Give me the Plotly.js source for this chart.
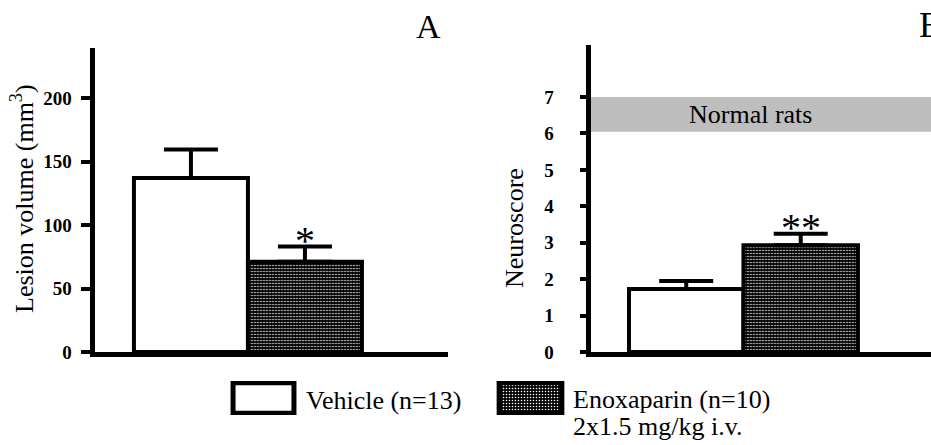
<!DOCTYPE html>
<html>
<head>
<meta charset="utf-8">
<script src="https://cdn.plot.ly/plotly-3.0.1.min.js"></script>
<style>html,body{margin:0;padding:0;background:#fff;}#chart{width:931px;height:445px;}</style>
</head>
<body>
<div id="chart"></div>
<script>
// ---- data ----
var groups = ['Vehicle (n=13)', 'Enoxaparin (n=10)'];
var lesionVolume = [137, 71];
var lesionSEM = [22.5, 12];
var neuroscore = [1.73, 2.93];
var neuroscoreSEM = [0.22, 0.32];
var sigA = ['', '*'];
var sigB = ['', '**'];
var normalBand = [6.05, 7];
var ticksA = [0, 50, 100, 150, 200];
var ticksB = [0, 1, 2, 3, 4, 5, 6, 7];
var doseLabel = '2x1.5 mg/kg i.v.';

var FONT = 'Liberation Serif';
var W = 931, H = 445;
function px(x) { return x / W; }
function py(y) { return (H - y) / H; }

var fills = ['#ffffff', '#000000'];
var patterns = [
  {shape: ''},
  {shape: '.', fillmode: 'replace', bgcolor: '#000000', fgcolor: '#ffffff', size: 3, solidity: 0.22}
];

function barTrace(xa, ya, yvals, err, i) {
  return {
    type: 'bar', xaxis: xa, yaxis: ya,
    x: [groups[i]], y: [yvals[i]], width: 1,
    marker: {color: fills[i], pattern: patterns[i], line: {color: '#000', width: 4}},
    error_y: {type: 'data', symmetric: false, array: [err[i]], arrayminus: [0],
              color: '#000', thickness: 4, width: 27},
    showlegend: false, hoverinfo: 'skip'
  };
}

var data = [
  barTrace('x', 'y', lesionVolume, lesionSEM, 0),
  barTrace('x', 'y', lesionVolume, lesionSEM, 1),
  barTrace('x2', 'y2', neuroscore, neuroscoreSEM, 0),
  barTrace('x2', 'y2', neuroscore, neuroscoreSEM, 1),
  // legend swatches
  {type: 'bar', xaxis: 'x3', yaxis: 'y3', x: [groups[0]], y: [1], width: 1,
   marker: {color: fills[0], line: {color: '#000', width: 5}}, showlegend: false, hoverinfo: 'skip'},
  {type: 'bar', xaxis: 'x4', yaxis: 'y4', x: [groups[1]], y: [1], width: 1,
   marker: {color: fills[1], pattern: patterns[1], line: {color: '#000', width: 5}}, showlegend: false, hoverinfo: 'skip'}
];

var tickFont = {family: FONT, size: 19, color: '#000', weight: 'bold'};
var hiddenX = {showgrid: false, zeroline: false, showticklabels: false, ticks: '', showline: false, fixedrange: true};

function txt(o) {
  o.showarrow = false;
  if (!o.xanchor) o.xanchor = 'center';
  if (!o.yanchor) o.yanchor = 'middle';
  return o;
}

var annotations = [];
// significance marks
[['x', 'y', lesionVolume, lesionSEM, sigA], ['x2', 'y2', neuroscore, neuroscoreSEM, sigB]].forEach(function (p) {
  for (var i = 0; i < groups.length; i++) {
    if (!p[4][i]) continue;
    annotations.push(txt({xref: p[0], yref: p[1], x: groups[i], y: p[2][i] + p[3][i],
      text: p[4][i], yanchor: 'bottom', yshift: -18,
      font: {family: FONT, size: 40, color: '#000'}}));
  }
});
annotations.push(
  txt({xref: 'paper', yref: 'paper', x: px(22), y: py(199), text: 'Lesion volume (mm<sup>3</sup>)',
   textangle: -90, font: {family: FONT, size: 26, color: '#000'}}),
  txt({xref: 'paper', yref: 'paper', x: px(515), y: py(228), text: 'Neuroscore',
   textangle: -90, font: {family: FONT, size: 26, color: '#000'}}),
  txt({xref: 'paper', yref: 'y2', x: px(750), y: (normalBand[0] + normalBand[1]) / 2, text: 'Normal rats',
   font: {family: FONT, size: 26, color: '#000'}}),
  txt({xref: 'paper', yref: 'paper', x: px(428), y: py(27), text: 'A',
   font: {family: FONT, size: 34, color: '#000'}}),
  txt({xref: 'paper', yref: 'paper', x: px(917), y: py(25), xanchor: 'left', text: 'B',
   font: {family: FONT, size: 36, color: '#000'}}),
  txt({xref: 'paper', yref: 'paper', x: px(304), y: py(400), xanchor: 'left', text: groups[0],
   font: {family: FONT, size: 26, color: '#000'}}),
  txt({xref: 'paper', yref: 'paper', x: px(571), y: py(399), xanchor: 'left', text: groups[1],
   font: {family: FONT, size: 26, color: '#000'}}),
  txt({xref: 'paper', yref: 'paper', x: px(571), y: py(426), xanchor: 'left', text: doseLabel,
   font: {family: FONT, size: 26, color: '#000'}})
);

var layout = {
  width: W, height: H, autosize: false,
  margin: {l: 0, r: 0, t: 0, b: 0, pad: 0},
  paper_bgcolor: '#fff', plot_bgcolor: 'rgba(0,0,0,0)',
  font: {family: FONT, color: '#000'},
  bargap: 0, showlegend: false,
  xaxis: {domain: [px(94.5), px(448)], type: 'category', categoryarray: groups, range: [-0.846, 2.255],
          showgrid: false, zeroline: false, showticklabels: false, ticks: '',
          showline: true, linecolor: '#000', linewidth: 5, anchor: 'y', fixedrange: true},
  yaxis: {domain: [py(352), py(48)], range: [0, 239.4], tickvals: ticksA, ticktext: ticksA.map(String),
          ticks: 'outside', ticklen: 9, tickwidth: 4, tickcolor: '#000', ticklabelstandoff: 5,
          showgrid: false, zeroline: false, showline: true, linecolor: '#000', linewidth: 5,
          tickfont: tickFont, anchor: 'x', fixedrange: true},
  xaxis2: {domain: [px(590.5), 1], type: 'category', categoryarray: groups, range: [-0.836, 2.138],
           showgrid: false, zeroline: false, showticklabels: false, ticks: '',
           showline: true, linecolor: '#000', linewidth: 5, anchor: 'y2', fixedrange: true},
  yaxis2: {domain: [py(352), py(45)], range: [0, 8.43], tickvals: ticksB, ticktext: ticksB.map(String),
           ticks: 'outside', ticklen: 6, tickwidth: 4, tickcolor: '#000', ticklabelstandoff: 22,
           showgrid: false, zeroline: false, showline: true, linecolor: '#000', linewidth: 5,
           tickfont: tickFont, anchor: 'x2', fixedrange: true},
  xaxis3: Object.assign({domain: [px(230), px(297)], type: 'category', range: [-0.55, 0.55], anchor: 'y3'}, hiddenX),
  yaxis3: Object.assign({domain: [py(415), py(381)], range: [-0.06, 1.06], anchor: 'x3'}, hiddenX),
  xaxis4: Object.assign({domain: [px(496), px(565)], type: 'category', range: [-0.55, 0.55], anchor: 'y4'}, hiddenX),
  yaxis4: Object.assign({domain: [py(415), py(381)], range: [-0.06, 1.06], anchor: 'x4'}, hiddenX),
  shapes: [
    {type: 'rect', xref: 'x2 domain', yref: 'y2', x0: 0, x1: 1, y0: normalBand[0], y1: normalBand[1],
     fillcolor: '#bebebe', line: {width: 0}, layer: 'below'}
  ],
  annotations: annotations
};

Plotly.newPlot('chart', data, layout, {displayModeBar: false, staticPlot: true});
</script>
</body>
</html>
